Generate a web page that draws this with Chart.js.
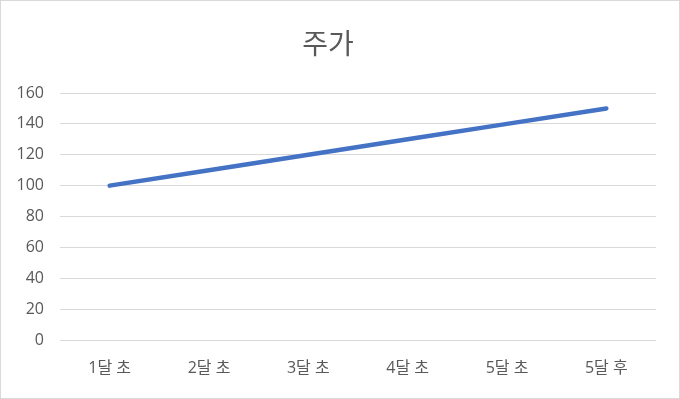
<!DOCTYPE html>
<html>
<head>
<meta charset="utf-8">
<script src="https://cdn.jsdelivr.net/npm/chart.js@4/dist/chart.umd.min.js"></script>
<style>
  html, body { margin: 0; padding: 0; background: #fff; }
  #wrap { width: 680px; height: 399px; position: relative; }
</style>
</head>
<body>
<div id="wrap"><canvas id="c" width="680" height="399"></canvas></div>
<script>
const title = '주가';
const categories = ['1달 초', '2달 초', '3달 초', '4달 초', '5달 초', '5달 후'];
const stockPrice = [100, 110, 120, 130, 140, 150];
const yTicks = [0, 20, 40, 60, 80, 100, 120, 140, 160];

const FONT = "'Open Sans', 'Noto Sans CJK KR', sans-serif";
const TEXT = '#595959';
const GRID = '#d9d9d9';

const borderPlugin = {
  id: 'outerBorder',
  beforeDraw(chart) {
    const ctx = chart.ctx;
    ctx.save();
    ctx.fillStyle = '#ffffff';
    ctx.fillRect(0, 0, chart.width, chart.height);
    ctx.restore();
  },
  afterDraw(chart) {
    const ctx = chart.ctx;
    ctx.save();
    ctx.strokeStyle = GRID;
    ctx.lineWidth = 1;
    ctx.strokeRect(0.5, 0.5, chart.width - 1, chart.height - 1);
    ctx.restore();
  }
};

new Chart(document.getElementById('c'), {
  type: 'line',
  data: {
    labels: categories,
    datasets: [{
      label: title,
      data: stockPrice,
      borderColor: '#4472C4',
      borderWidth: 4.5,
      borderCapStyle: 'round',
      borderJoinStyle: 'round',
      pointRadius: 0,
      tension: 0,
      fill: false
    }]
  },
  options: {
    responsive: false,
    animation: false,
    layout: { padding: { left: 0, right: 24, top: 0, bottom: 0 } },
    plugins: {
      legend: { display: false },
      tooltip: { enabled: false },
      title: {
        display: true,
        text: title,
        color: TEXT,
        font: { family: FONT, size: 28, weight: 'normal', lineHeight: 1.2 },
        padding: { top: 29, bottom: 30.4 }
      }
    },
    scales: {
      x: {
        offset: true,
        grid: { display: false, drawTicks: false },
        border: { display: false },
        ticks: {
          color: TEXT,
          font: { family: FONT, size: 16 },
          padding: 19,
          maxRotation: 0,
          autoSkip: false
        },
        afterFit(scale) { scale.height = 59; }
      },
      y: {
        min: 0,
        max: 160,
        afterBuildTicks(scale) { scale.ticks = yTicks.map(v => ({ value: v })); },
        grid: { color: GRID, lineWidth: 1, drawTicks: false },
        border: { display: false },
        ticks: {
          color: TEXT,
          font: { family: FONT, size: 16 },
          padding: 16
        },
        afterFit(scale) { scale.width = 60; }
      }
    }
  },
  plugins: [borderPlugin]
});
</script>
</body>
</html>
